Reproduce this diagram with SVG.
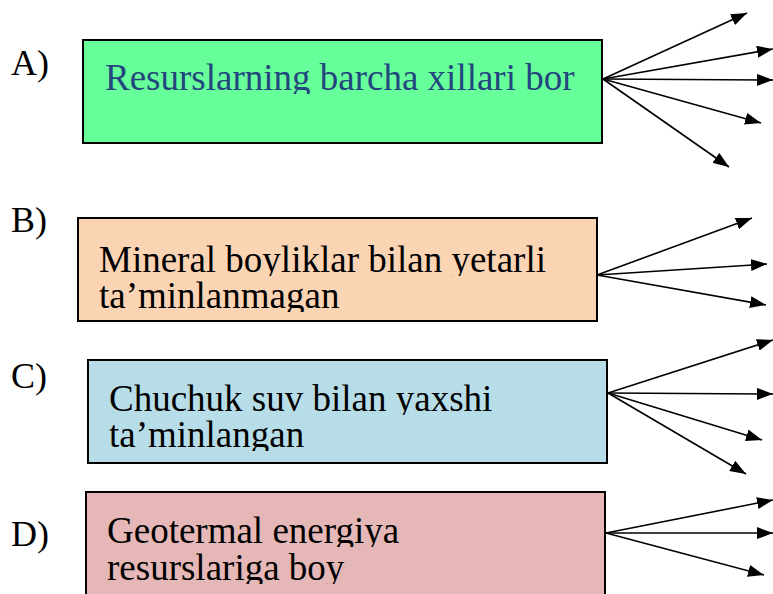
<svg xmlns="http://www.w3.org/2000/svg" width="773" height="594" viewBox="0 0 773 594">
<style>
.box{stroke:#000;stroke-width:2}
.t{font-family:"Liberation Serif","Times New Roman",serif;font-size:37px;fill:#000}
.blue{fill:#23467F}
.lbl{font-family:"Liberation Serif","Times New Roman",serif;font-size:36px;fill:#000}
.c line{stroke:#000;stroke-width:1.6;marker-end:url(#ah)}
</style>
<defs>
<marker id="ah" markerUnits="userSpaceOnUse" viewBox="0 0 16 12" refX="16" refY="6" markerWidth="16" markerHeight="12" orient="auto">
<path d="M0,0 L16,6 L0,12 Z" fill="#000"/>
</marker>
<clipPath id="cA"><rect x="83" y="40" width="520" height="54"/></clipPath>
<clipPath id="cB"><rect x="78" y="218" width="520" height="58"/><rect x="78" y="281" width="520" height="31"/></clipPath>
<clipPath id="cC"><rect x="88" y="360" width="520" height="55"/><rect x="88" y="420" width="520" height="31"/></clipPath>
<clipPath id="cD"><rect x="86" y="492" width="520" height="55"/><rect x="86" y="553" width="520" height="31"/></clipPath>
</defs>

<g id="label-A"><text class="lbl" x="11" y="75">A)</text></g>
<g id="label-B"><text class="lbl" x="11" y="232">B)</text></g>
<g id="label-C"><text class="lbl" x="11" y="388">C)</text></g>
<g id="label-D"><text class="lbl" x="11" y="546">D)</text></g>

<g id="node-A">
<rect class="box" x="83" y="40" width="519" height="103" fill="#66FF99"/>
<text class="t blue" x="105" y="90" clip-path="url(#cA)">Resurslarning barcha xillari bor</text>
</g>
<g id="node-B">
<rect class="box" x="78" y="218" width="519" height="103" fill="#FBD4B4"/>
<text class="t" clip-path="url(#cB)"><tspan x="99" y="272">Mineral boyliklar bilan yetarli</tspan><tspan x="99" y="308">ta’minlanmagan</tspan></text>
</g>
<g id="node-C">
<rect class="box" x="88" y="360" width="519" height="103" fill="#B7DDE8"/>
<text class="t" clip-path="url(#cC)"><tspan x="109" y="411">Chuchuk suv bilan yaxshi</tspan><tspan x="109" y="447">ta’minlangan</tspan></text>
</g>
<g id="node-D">
<rect class="box" x="86" y="492" width="519" height="110" fill="#E5B8B7"/>
<text class="t" clip-path="url(#cD)"><tspan x="107" y="543">Geotermal energiya</tspan><tspan x="107" y="580">resurslariga boy</tspan></text>
</g>

<g id="connectors" class="c">
<line x1="603" y1="79" x2="747" y2="13"/>
<line x1="603" y1="79" x2="773" y2="49"/>
<line x1="603" y1="79" x2="773" y2="80"/>
<line x1="603" y1="79" x2="761" y2="123"/>
<line x1="603" y1="79" x2="729" y2="167"/>

<line x1="597" y1="275" x2="752" y2="218"/>
<line x1="597" y1="275" x2="767" y2="264"/>
<line x1="597" y1="275" x2="766" y2="305"/>

<line x1="608" y1="393" x2="773" y2="340"/>
<line x1="608" y1="393" x2="773" y2="394"/>
<line x1="608" y1="393" x2="762" y2="440"/>
<line x1="608" y1="393" x2="746" y2="474"/>

<line x1="606" y1="533" x2="773" y2="500"/>
<line x1="606" y1="533" x2="773" y2="533"/>
<line x1="606" y1="533" x2="764" y2="575"/>
</g>
</svg>
